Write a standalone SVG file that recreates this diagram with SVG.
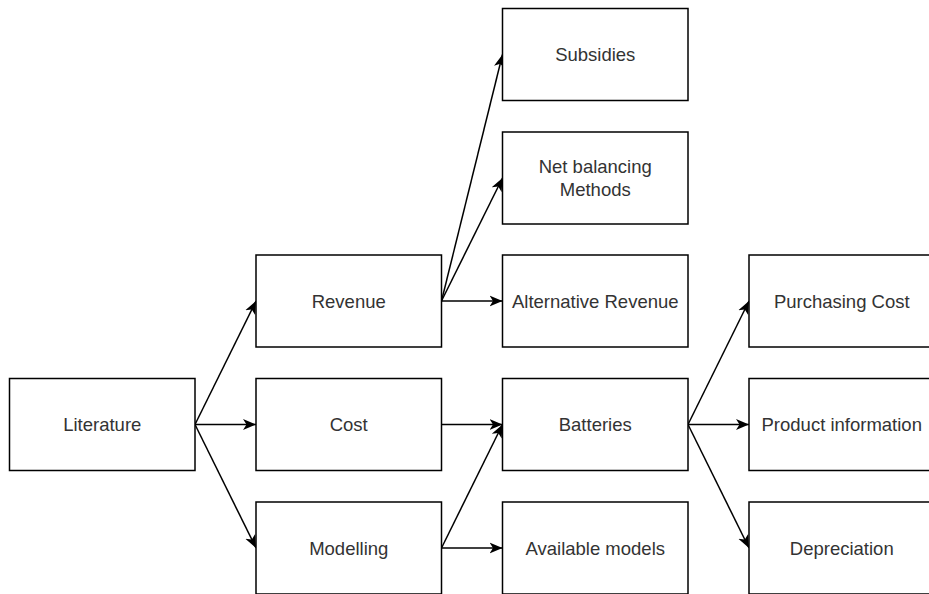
<svg xmlns="http://www.w3.org/2000/svg" width="929" height="594" viewBox="0 0 929 594">
<style>
.box{fill:#fff;stroke:#000;stroke-width:1.5}
.lbl{font-family:"Liberation Sans",Arial,sans-serif;font-size:18.5px;fill:#333;text-anchor:middle;dominant-baseline:central}
.edge{fill:none;stroke:#000;stroke-width:1.5;marker-end:url(#arr)}
</style>
<defs>
<marker id="arr" markerUnits="userSpaceOnUse" markerWidth="14" markerHeight="12" viewBox="0 0 14 12" refX="13" refY="6" orient="auto">
<path d="M0,0.5 L13,6 L0,11.5 L3.5,6 Z" fill="#000"/>
</marker>
</defs>
<rect width="929" height="594" fill="#fff"/>
<g id="connectors">
<path class="edge" d="M195,424.5 L256,301"/>
<path class="edge" d="M195,424.5 L256,424.5"/>
<path class="edge" d="M195,424.5 L256,548"/>
<path class="edge" d="M441.5,301 L502.5,54.5"/>
<path class="edge" d="M441.5,301 L502.5,178"/>
<path class="edge" d="M441.5,301 L502.5,301"/>
<path class="edge" d="M441.5,424.5 L502.5,424.5"/>
<path class="edge" d="M441.5,548 L502.5,424.5"/>
<path class="edge" d="M441.5,548 L502.5,548"/>
<path class="edge" d="M688,424.5 L749,301"/>
<path class="edge" d="M688,424.5 L749,424.5"/>
<path class="edge" d="M688,424.5 L749,548"/>
</g>
<g id="literature"><rect class="box" x="9.5" y="378.5" width="185.5" height="92"/><text class="lbl" x="102.25" y="424.5">Literature</text></g>
<g id="revenue"><rect class="box" x="256" y="255" width="185.5" height="92"/><text class="lbl" x="348.75" y="301">Revenue</text></g>
<g id="cost"><rect class="box" x="256" y="378.5" width="185.5" height="92"/><text class="lbl" x="348.75" y="424.5">Cost</text></g>
<g id="modelling"><rect class="box" x="256" y="502" width="185.5" height="92"/><text class="lbl" x="348.75" y="548">Modelling</text></g>
<g id="subsidies"><rect class="box" x="502.5" y="8.5" width="185.5" height="92"/><text class="lbl" x="595.25" y="54.5">Subsidies</text></g>
<g id="net-balancing"><rect class="box" x="502.5" y="132" width="185.5" height="92"/><text class="lbl" x="595.25" y="166.5">Net balancing</text><text class="lbl" x="595.25" y="189.5">Methods</text></g>
<g id="alternative-revenue"><rect class="box" x="502.5" y="255" width="185.5" height="92"/><text class="lbl" x="595.25" y="301">Alternative Revenue</text></g>
<g id="batteries"><rect class="box" x="502.5" y="378.5" width="185.5" height="92"/><text class="lbl" x="595.25" y="424.5">Batteries</text></g>
<g id="available-models"><rect class="box" x="502.5" y="502" width="185.5" height="92"/><text class="lbl" x="595.25" y="548">Available models</text></g>
<g id="purchasing-cost"><rect class="box" x="749" y="255" width="185.5" height="92"/><text class="lbl" x="841.75" y="301">Purchasing Cost</text></g>
<g id="product-information"><rect class="box" x="749" y="378.5" width="185.5" height="92"/><text class="lbl" x="841.75" y="424.5">Product information</text></g>
<g id="depreciation"><rect class="box" x="749" y="502" width="185.5" height="92"/><text class="lbl" x="841.75" y="548">Depreciation</text></g>
</svg>
